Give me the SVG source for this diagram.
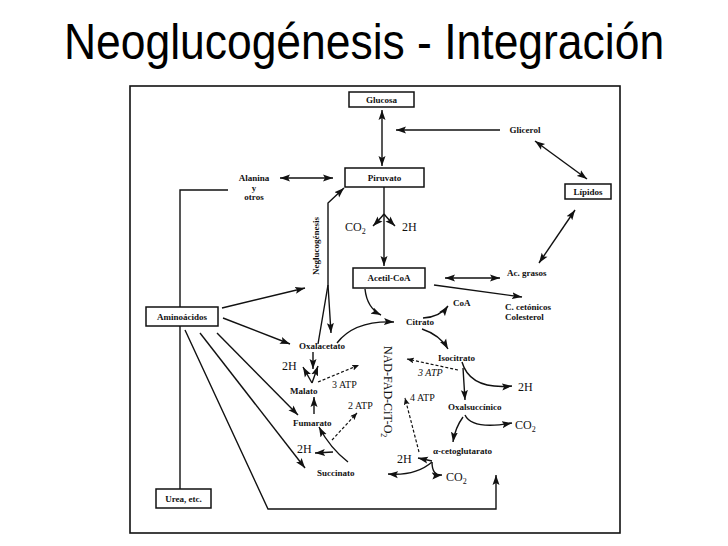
<svg xmlns="http://www.w3.org/2000/svg" width="728" height="546" viewBox="0 0 728 546">
<style>
.title{font-family:"Liberation Sans",Arial,sans-serif;font-size:44px;fill:#000}
.lb{font-family:"Liberation Serif","Times New Roman",serif;font-size:9px;font-weight:bold;fill:#111}
.sm{font-family:"Liberation Serif","Times New Roman",serif;font-size:12px;fill:#111}
.atp{font-family:"Liberation Serif","Times New Roman",serif;font-size:10px;fill:#111}
.box{fill:#fff;stroke:#111;stroke-width:1.5}
.ln{fill:none;stroke:#111;stroke-width:1.4}
.ar{fill:none;stroke:#111;stroke-width:1.4;marker-end:url(#ah)}
.dar{fill:none;stroke:#111;stroke-width:1.4;marker-end:url(#ah);marker-start:url(#ahs)}
.dash{fill:none;stroke:#111;stroke-width:1.2;stroke-dasharray:3 2;marker-end:url(#dh)}
</style>
<defs>
<marker id="ah" markerUnits="userSpaceOnUse" markerWidth="11" markerHeight="8" refX="10" refY="4" orient="auto"><path d="M0,0.5 L10,4 L0,7.5 L2,4 z" fill="#111"/></marker>
<marker id="ahs" markerUnits="userSpaceOnUse" markerWidth="11" markerHeight="8" refX="0" refY="4" orient="auto"><path d="M10,0.5 L0,4 L10,7.5 L8,4 z" fill="#111"/></marker>
<marker id="dh" markerUnits="userSpaceOnUse" markerWidth="8" markerHeight="7" refX="7" refY="3" orient="auto"><path d="M0,0 L7,3 L0,6 L1.5,3 z" fill="#111"/></marker>
</defs>
<rect width="728" height="546" fill="#fff"/>
<text class="title" transform="translate(364,59) scale(1.01,1.15)" text-anchor="middle">Neoglucogénesis - Integración</text>
<rect x="130" y="86" width="490" height="447" fill="none" stroke="#111" stroke-width="1.6"/>

<g id="connectors">
<line class="dar" x1="382" y1="110" x2="382" y2="166"/>
<line class="ar" x1="500" y1="130" x2="396" y2="130"/>
<line class="dar" x1="535" y1="141" x2="587" y2="179"/>
<line class="dar" x1="280" y1="178" x2="333" y2="178"/>
<path class="ln" d="M180,307 V190 H228"/>
<path class="ln" d="M180,326 V489"/>
<path class="ar" d="M318,344 L328,285 L328,203 L344,188"/>
<path class="ar" d="M328,285 L331,333"/>
<path class="ar" d="M384,187 L384,266"/>
<path class="ar" d="M384,214 Q380,219 373,226"/>
<path class="ar" d="M384,214 Q388,219 395,226"/>
<line class="dar" x1="445" y1="278" x2="500" y2="278"/>
<line class="dar" x1="539" y1="263" x2="575" y2="210"/>
<path class="ar" d="M434,285 L522,297"/>
<path class="ar" d="M365,289 Q367,308 381,315"/>
<path class="ar" d="M337,343 C350,326 370,321 394,322"/>
<path class="ar" d="M423,318 Q440,317 448,306"/>
<path class="ar" d="M422,329 Q440,335 448,349"/>
<path class="dash" d="M458,370 L407,359"/>
<path class="ar" d="M462,362 Q470,390 512,386"/>
<path class="ar" d="M463,368 L465,400"/>
<path class="ar" d="M465,415 Q472,430 512,423"/>
<path class="ar" d="M463,417 Q455,428 453,442"/>
<path class="ar" d="M432,461 L418,458"/>
<path class="ar" d="M432,462 Q432,476 442,475"/>
<path class="ar" d="M432,462 Q416,476 388,474"/>
<path class="dash" d="M419,452 L405,398"/>
<path class="ar" d="M222,308 L305,288"/>
<path class="ar" d="M223,318 L290,344"/>
<path class="ar" d="M217,333 L298,415"/>
<path class="ar" d="M200,333 L305,468"/>
<path class="ar" d="M185,330 L268,509 L496,509 L496,475"/>
<path class="ar" d="M313,352 L313,369"/>
<path class="ar" d="M312,383 L303,367"/>
<path class="ar" d="M312,383 L318,366"/>
<path class="dash" d="M318,382 L359,365"/>
<path class="ar" d="M314,414 L314,397"/>
<path class="ar" d="M348,462 Q330,448 319,427"/>
<path class="ar" d="M333,452 L315,453"/>
<path class="dash" d="M332,440 L357,413"/>
</g>

<g id="glucosa"><rect class="box" x="349" y="92" width="65" height="15"/><text class="lb" x="381.5" y="103" text-anchor="middle">Glucosa</text></g>
<g id="piruvato"><rect class="box" x="345" y="168" width="79" height="19"/><text class="lb" x="384.5" y="181" text-anchor="middle">Piruvato</text></g>
<g id="glicerol"><text class="lb" x="525" y="133" text-anchor="middle">Glicerol</text></g>
<g id="lipidos"><rect class="box" x="565" y="184" width="46" height="15"/><text class="lb" x="588" y="195" text-anchor="middle">Lípidos</text></g>
<g id="alanina"><text class="lb" x="254" y="181" text-anchor="middle">Alanina</text><text class="lb" x="254" y="191" text-anchor="middle">y</text><text class="lb" x="254" y="200" text-anchor="middle">otros</text></g>
<g id="acetilcoa"><rect class="box" x="353" y="268" width="72" height="20"/><text class="lb" x="389" y="281" text-anchor="middle">Acetil-CoA</text></g>
<g id="acgrasos"><text class="lb" x="507" y="276">Ac. grasos</text></g>
<g id="cetonicos"><text class="lb" x="505" y="310">C. cetónicos</text><text class="lb" x="505" y="320">Colesterol</text></g>
<g id="coa"><text class="lb" x="453" y="306">CoA</text></g>
<g id="citrato"><text class="lb" x="406" y="325">Citrato</text></g>
<g id="isocitrato"><text class="lb" x="438" y="361">Isocitrato</text></g>
<g id="oxalsuccinico"><text class="lb" x="448" y="410">Oxalsuccínico</text></g>
<g id="cetoglutarato"><text class="lb" x="433" y="454">α-cetoglutarato</text></g>
<g id="succinato"><text class="lb" x="317" y="476">Succinato</text></g>
<g id="fumarato"><text class="lb" x="293" y="426">Fumarato</text></g>
<g id="malato"><text class="lb" x="290" y="394">Malato</text></g>
<g id="oxalacetato"><text class="lb" x="299" y="349">Oxalacetato</text></g>
<g id="aminoacidos"><rect class="box" x="146" y="307" width="72" height="19"/><text class="lb" x="182" y="320" text-anchor="middle">Aminoácidos</text></g>
<g id="urea"><rect class="box" x="156" y="489" width="55" height="19"/><text class="lb" x="183.5" y="502" text-anchor="middle">Urea, etc.</text></g>

<g id="labels">
<text class="sm" x="345" y="231">CO<tspan font-size="8" dy="3">2</tspan></text>
<text class="sm" x="402" y="231">2H</text>
<text class="lb" transform="translate(319,246) rotate(-90)" text-anchor="middle">Neglucogénesis</text>
<text class="sm" transform="translate(384,346) rotate(90)">NAD-FAD-CiT-O<tspan font-size="8" dy="3">2</tspan></text>
<text class="atp" x="332" y="388">3 ATP</text>
<text class="atp" x="348" y="409">2 ATP</text>
<text class="atp" x="418" y="376" font-style="italic">3 ATP</text>
<text class="atp" x="410" y="401">4 ATP</text>
<text class="sm" x="282" y="370" font-size="11">2H</text>
<text class="sm" x="297" y="453" font-size="11">2H</text>
<text class="sm" x="518" y="391">2H</text>
<text class="sm" x="515" y="429">CO<tspan font-size="8" dy="3">2</tspan></text>
<text class="sm" x="397" y="463" font-size="11">2H</text>
<text class="sm" x="446" y="481">CO<tspan font-size="8" dy="3">2</tspan></text>
</g>
</svg>
